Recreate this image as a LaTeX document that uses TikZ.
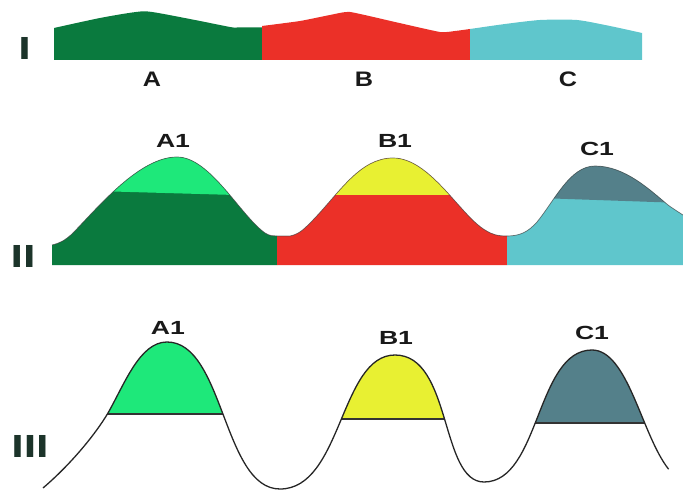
\documentclass[tikz,border=0pt]{standalone}
\usepackage{fontspec}
\newfontfamily\numfont{Liberation Sans}[FakeStretch=1.4]
\newfontfamily\lblfontI{Liberation Sans}[FakeStretch=1.2]
\newfontfamily\lblfont{Liberation Sans}[FakeStretch=1.4]
\definecolor{dkgreen}{RGB}{10,122,62}
\definecolor{redc}{RGB}{235,48,40}
\definecolor{cyanc}{RGB}{95,198,204}
\definecolor{ltgreen}{RGB}{30,232,122}
\definecolor{yellowc}{RGB}{232,240,50}
\definecolor{slate}{RGB}{84,128,138}
\definecolor{numcol}{RGB}{28,52,42}
\definecolor{lblcol}{RGB}{25,25,25}
\begin{document}
\begin{tikzpicture}[x=1pt,y=-1pt,
  numeral/.style={anchor=base, inner sep=0pt, text=numcol, font=\numfont\bfseries\fontsize{32}{32}\selectfont},
  lblI/.style={anchor=base, inner sep=0pt, text=lblcol, font=\lblfontI\bfseries\fontsize{21}{21}\selectfont},
  lbl/.style={anchor=base, inner sep=0pt, text=lblcol, font=\lblfont\bfseries\fontsize{19}{19}\selectfont},
  hump/.style={draw=black!75, line width=0.7pt, draw opacity=0.7},
  wave/.style={draw=black!85, line width=1.3pt},
  capline/.style={draw=black!80, line width=1.1pt}]
\useasboundingbox (0,0) rectangle (683,492);

% ---------- Row I ----------
\fill[dkgreen] (54,60) -- plot[smooth,tension=0.5] coordinates {(54,28) (100,18) (136,12) (152,12) (195,20) (230,27) (237,27.5)} -- (262,27.5) -- (262,60) -- cycle;
\fill[redc] (262,60) -- plot[smooth,tension=0.3] coordinates {(262,26) (300,21) (330,15) (350,12) (395,22) (440,32) (455,31) (470,29)} -- (470,60) -- cycle;
\fill[cyanc] (470,60) -- plot[smooth,tension=0.4] coordinates {(470,29) (505,24) (540,20) (577,20) (610,26) (642,33)} -- (642,60) -- cycle;

\node[numeral] (n1) at (24.5,60) {I};
\node[lblI] (la) at (152,87) {A};
\node[lblI] (lb) at (364,87) {B};
\node[lblI] (lc) at (568,87) {C};

% ---------- Row II ----------
\def\topA{(52,245) .. controls (60,243) and (64,241) .. (72,234) .. controls (100,205) and (140,157) .. (177,157) .. controls (210,157) and (240,215) .. (265,233) .. controls (270,236) and (273,236) .. (277,236)}
\def\topB{(277,236) -- (290,236) .. controls (300,234) and (305,228) .. (313,220) .. controls (340,192) and (360,158) .. (393,158) .. controls (430,158) and (460,215) .. (485,230) .. controls (493,235) and (498,236) .. (507,236)}
\def\topC{(507,236) .. controls (520,236) and (528,232) .. (537,222) .. controls (555,200) and (570,166) .. (595,166) .. controls (625,166) and (650,190) .. (668,205) .. controls (675,210) and (680,213) .. (683,215)}

\fill[dkgreen] (52,265) -- \topA -- (277,265) -- cycle;
\fill[redc] (277,265) -- \topB -- (507,265) -- cycle;
\fill[cyanc] (507,265) -- \topC -- (683,265) -- cycle;

\begin{scope}
  \clip (52,265) -- \topA -- (277,265) -- cycle;
  \fill[ltgreen] (60,100) -- (270,100) -- (270,196) -- (60,190) -- cycle;
\end{scope}
\begin{scope}
  \clip (277,265) -- \topB -- (507,265) -- cycle;
  \fill[yellowc] (290,100) -- (500,100) -- (500,195) -- (290,195) -- cycle;
\end{scope}
\begin{scope}
  \clip (507,265) -- \topC -- (683,265) -- cycle;
  \fill[slate] (510,100) -- (683,100) -- (683,203) -- (510,197) -- cycle;
\end{scope}

\draw[hump] \topA;
\draw[hump] \topB;
\draw[hump] \topC;

\node[numeral] (n2) at (23,267) {II};
\node[lbl] (a1) at (173,148) {A1};
\node[lbl] (b1) at (395,148) {B1};
\node[lbl] (c1) at (597,156) {C1};

% ---------- Row III ----------
\def\wavepath{(43,488) .. controls (70,465) and (95,435) .. (108,413) .. controls (125,383) and (140,342) .. (167,342) .. controls (224,342) and (223,489) .. (280,489) .. controls (342,489) and (340,355) .. (395,355) .. controls (452,355) and (440,482) .. (484,482) .. controls (540,482) and (536,350) .. (592,350) .. controls (628,350) and (641.6,435.1) .. (668.6,469.2)}

\begin{scope}
  \clip \wavepath -- (668.6,495) -- (43,495) -- cycle;
  \fill[ltgreen] (95,300) rectangle (240,414);
  \fill[yellowc] (330,300) rectangle (460,419);
  \fill[slate] (525,300) rectangle (650,423);
  \draw[capline] (95,414) -- (240,414);
  \draw[capline] (330,419) -- (460,419);
  \draw[capline] (525,423) -- (650,423);
\end{scope}
\draw[wave] \wavepath;

\node[numeral] (n3) at (30,457) {III};
\node[lbl] (a2) at (168,334) {A1};
\node[lbl] (b2) at (396,344) {B1};
\node[lbl] (c2) at (592,339) {C1};
\end{tikzpicture}
\end{document}
